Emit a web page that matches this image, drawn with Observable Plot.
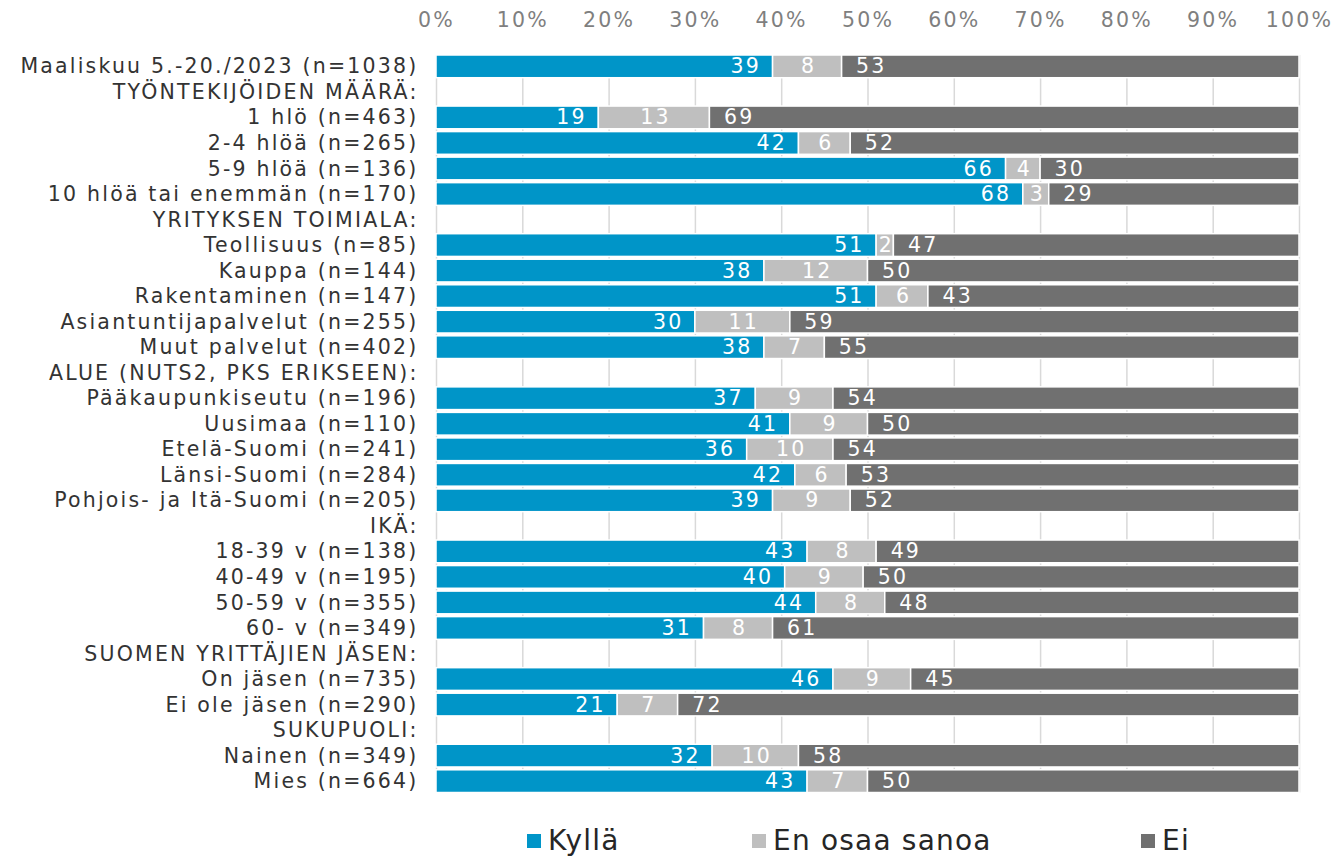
<!DOCTYPE html>
<html>
<head>
<meta charset="utf-8">
<script src="https://cdn.jsdelivr.net/npm/d3@7"></script>
<script src="https://cdn.jsdelivr.net/npm/@observablehq/plot@0.6"></script>
<style>
  html, body { margin: 0; padding: 0; background: #fff; }
  body { width: 1337px; height: 859px; position: relative; overflow: hidden; font-family: "DejaVu Sans", Verdana, sans-serif; }
  #chart { position: absolute; left: 0; top: 0; }
  #chart svg text { letter-spacing: 2.2px; }
  .leg { position: absolute; top: 824px; font-size: 28px; letter-spacing: 1.2px; color: #262626; display: flex; align-items: center; white-space: nowrap; }
  .sw { width: 14px; height: 14px; display: inline-block; margin-right: 7px; }
</style>
</head>
<body>
<div id="chart"></div>
<div class="leg" style="left:527px"><span class="sw" style="background:#0095c8"></span>Kyllä</div>
<div class="leg" style="left:752px"><span class="sw" style="background:#bfbfbf"></span>En osaa sanoa</div>
<div class="leg" style="left:1141px"><span class="sw" style="background:#707070"></span>Ei</div>
<script>
const rows = [
  "Maaliskuu 5.-20./2023 (n=1038)",
  "TYÖNTEKIJÖIDEN MÄÄRÄ:",
  "1 hlö (n=463)",
  "2-4 hlöä (n=265)",
  "5-9 hlöä (n=136)",
  "10 hlöä tai enemmän (n=170)",
  "YRITYKSEN TOIMIALA:",
  "Teollisuus (n=85)",
  "Kauppa (n=144)",
  "Rakentaminen (n=147)",
  "Asiantuntijapalvelut (n=255)",
  "Muut palvelut (n=402)",
  "ALUE (NUTS2, PKS ERIKSEEN):",
  "Pääkaupunkiseutu (n=196)",
  "Uusimaa (n=110)",
  "Etelä-Suomi (n=241)",
  "Länsi-Suomi (n=284)",
  "Pohjois- ja Itä-Suomi (n=205)",
  "IKÄ:",
  "18-39 v (n=138)",
  "40-49 v (n=195)",
  "50-59 v (n=355)",
  "60- v (n=349)",
  "SUOMEN YRITTÄJIEN JÄSEN:",
  "On jäsen (n=735)",
  "Ei ole jäsen (n=290)",
  "SUKUPUOLI:",
  "Nainen (n=349)",
  "Mies (n=664)"
];
// null = header row (no bar)
const kylla = [39, null, 19, 42, 66, 68, null, 51, 38, 51, 30, 38, null, 37, 41, 36, 42, 39, null, 43, 40, 44, 31, null, 46, 21, null, 32, 43];
const eos   = [ 8, null, 13,  6,  4,  3, null,  2, 12,  6, 11,  7, null,  9,  9, 10,  6,  9, null,  8,  9,  8,  8, null,  9,  7, null, 10,  7];
const ei    = [53, null, 69, 52, 30, 29, null, 47, 50, 43, 59, 55, null, 54, 50, 54, 53, 52, null, 49, 50, 48, 61, null, 45, 72, null, 58, 50];
const answers = ["Kyllä", "En osaa sanoa", "Ei"];
const colors = ["#0095c8", "#bfbfbf", "#707070"];
const xTicks = [0, 0.1, 0.2, 0.3, 0.4, 0.5, 0.6, 0.7, 0.8, 0.9, 1];

const series = [kylla, eos, ei];
const data = [];
rows.forEach((r, i) => {
  if (kylla[i] == null) return;
  answers.forEach((a, k) => data.push({row: r, answer: a, value: series[k][i]}));
});

const common = {x: "value", y: "row", z: "answer", order: answers, offset: "normalize"};
const fs = 20.5;
const pct = d => Math.round(d * 100) + "%";

const chart = Plot.plot({
  width: 1337,
  height: 806,
  marginLeft: 436,
  marginRight: 38,
  marginTop: 55,
  marginBottom: 13.5,
  style: {fontFamily: "DejaVu Sans, Verdana, sans-serif", fontSize: fs + "px", background: "#fff"},
  x: {domain: [0, 1], ticks: xTicks, tickFormat: pct},
  y: {domain: rows, paddingInner: 0.11, paddingOuter: 0, round: false, label: null},
  color: {domain: answers, range: colors},
  marks: [
    Plot.gridX(xTicks, {stroke: "#d9d9d9", strokeOpacity: 1, strokeWidth: 1.5}),
    Plot.axisX(xTicks, {anchor: "top", tickSize: 0, tickPadding: 29, tickFormat: pct, fill: "#7f7f7f", label: null, fontSize: fs}),
    Plot.axisY({tickSize: 0, tickPadding: 18, fill: "#333", label: null, fontSize: fs}),
    Plot.barX(data, Plot.stackX({...common, fill: "answer", stroke: "#fff", strokeWidth: 1.5})),
    Plot.text(data, Plot.stackX2({...common, text: d => d.answer === "Kyllä" ? d.value : null, textAnchor: "end", dx: -12, fill: "#fff", fontSize: fs})),
    Plot.text(data, Plot.stackX({...common, text: d => d.answer === "En osaa sanoa" ? d.value : null, dx: 1, fill: "#fff", fontSize: fs})),
    Plot.text(data, Plot.stackX1({...common, text: d => d.answer === "Ei" ? d.value : null, textAnchor: "start", dx: 14, fill: "#fff", fontSize: fs}))
  ]
});
document.getElementById("chart").appendChild(chart);
</script>
</body>
</html>
